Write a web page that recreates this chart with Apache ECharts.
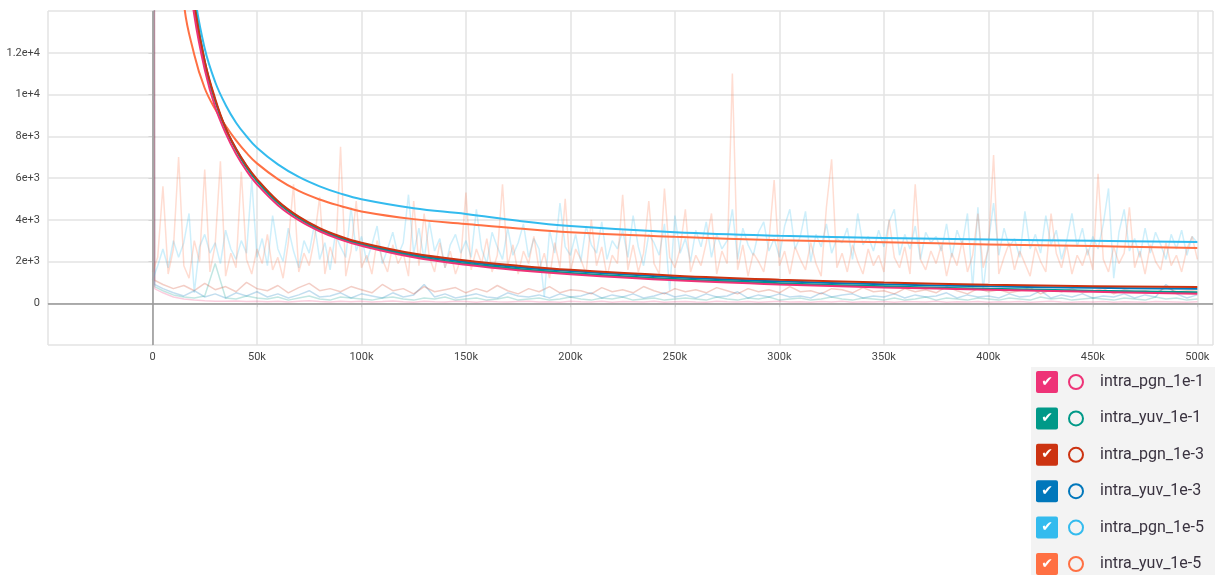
<!DOCTYPE html>
<html>
<head>
<meta charset="utf-8">
<script src="https://cdn.jsdelivr.net/npm/echarts@6/dist/echarts.min.js"></script>
<style>
  html, body { margin: 0; padding: 0; background: #fff; }
  #chart { width: 1215px; height: 575px; }
</style>
</head>
<body>
<div id="chart"></div>
<script>
// run names and TensorBoard palette
const runNames = ['intra_pgn_1e-1', 'intra_yuv_1e-1', 'intra_pgn_1e-3', 'intra_yuv_1e-3', 'intra_pgn_1e-5', 'intra_yuv_1e-5'];
const runColors = ['#ee3377', '#009988', '#cc3311', '#0077bb', '#33bbee', '#ff7043'];

// smoothed curves (step -> value)
const smoothSteps = [0, 5000, 10000, 15000, 20000, 25000, 30000, 35000, 40000, 45000, 50000, 60000, 70000, 80000, 90000,
  100000, 125000, 150000, 175000, 200000, 250000, 300000, 350000, 400000, 450000, 500000];
const smoothPgn1 = [88000, 48000, 26000, 17800, 13800, 11200, 9400, 8150, 7150, 6350, 5700, 4700, 3980, 3450, 3050,
  2750, 2200, 1840, 1580, 1390, 1100, 900, 760, 650, 550, 460];
const smoothYuv1 = [90000, 50000, 27000, 18500, 14400, 11600, 9700, 8350, 7350, 6500, 5850, 4820, 4080, 3530, 3110,
  2800, 2250, 1900, 1640, 1450, 1160, 960, 810, 690, 600, 530];
const smoothPgn3 = [95000, 52000, 27000, 18500, 14300, 11600, 9800, 8400, 7400, 6600, 5950, 4900, 4150, 3600, 3200,
  2900, 2380, 2050, 1800, 1600, 1320, 1130, 990, 890, 820, 780];
const smoothYuv3 = [92000, 51000, 27000, 18300, 14200, 11500, 9700, 8380, 7380, 6570, 5900, 4860, 4110, 3560, 3160,
  2850, 2320, 1980, 1730, 1540, 1250, 1050, 910, 810, 740, 690];
const smoothPgn5 = [200000, 90000, 40000, 22000, 15000, 12200, 10600, 9500, 8650, 8000, 7450, 6650, 6050, 5600, 5250,
  4980, 4550, 4280, 3950, 3700, 3400, 3230, 3130, 3050, 2990, 2930];
const smoothYuv5 = [150000, 60000, 28000, 14500, 11900, 10300, 9300, 8500, 7800, 7200, 6700, 5950, 5380, 4970, 4660,
  4400, 4030, 3800, 3580, 3400, 3180, 3020, 2920, 2820, 2740, 2650];

// raw (unsmoothed) values, noisy runs logged every 2.5k steps
const rawPgn5 = [
  1100, 1800, 2600, 1700, 3000, 2200, 2900, 4300, 500, 2700,
  3300, 2400, 2900, 1900, 3500, 2600, 2100, 3000, 2400, 5900,
  2200, 3100, 1800, 4200, 2600, 2000, 3600, 2500, 1700, 3000,
  2400, 3800, 2100, 2900, 1600, 3300, 2700, 2200, 4600, 2500,
  3200, 2000, 2800, 3700, 1900, 2600, 3400, 2300, 2900, 5200,
  2400, 3600, 2100, 3900, 2500, 3100, 1700, 2800, 3300, 2400,
  3000, 2200, 4500, 2600, 1900, 3400, 2700, 2100, 3600, 2300,
  2900, 3800, 2200, 3100, 2600, 300, 3500, 2400, 4800, 2700,
  2300, 3300, 2000, 3700, 2800, 2400, 3900, 2100, 3000, 2600,
  3500, 2200, 4200, 2700, 1800, 3300, 2900, 2300, 3800, 600,
  4200, 2400, 3100, 2000, 3500, 2700, 3900, 2200, 3300, 2600,
  3000, 4500, 2100, 3600, 2800, 2300, 3400, 3900, 2500, 3100,
  2200, 3700, 4500, 2600, 3200, 4400, 2000, 3300, 2700, 3800,
  2400, 3100, 2900, 3600, 2100, 4300, 2800, 3200, 2500, 3500,
  2700, 3900, 4500, 2300, 3300, 2600, 3700, 2100, 3400, 2900,
  3200, 2500, 3800, 2200, 3500, 2800, 4300, 700, 4600, 600,
  2900, 4800, 2300, 3600, 2700, 3100, 2200, 4400, 2600, 3300,
  2400, 4200, 2800, 3500, 2100, 3000, 4300, 2700, 3600, 2300,
  3200, 2600, 3800, 5500, 1200, 3400, 4500, 2500, 3100, 2200,
  3600, 2400, 3400, 2800, 2100, 3300, 2600, 3500, 2300, 3200,
  2900];
const rawYuv5 = [
  1500, 2200, 5600, 1400, 2600, 7000, 1800, 1200, 3000, 2000,
  6400, 1500, 2800, 6800, 1300, 2400, 1700, 6300, 2100, 1400,
  2600, 1900, 3300, 1600, 2200, 1200, 2900, 5700, 1500, 2400,
  1800, 3100, 5100, 1400, 2700, 1900, 7500, 1300, 2500, 4900,
  1700, 2300, 1400, 3000, 2100, 1500, 2800, 1900, 2400, 1300,
  4900, 1800, 4300, 2200, 1500, 2900, 1700, 2500, 1400, 2100,
  5300, 1600, 2600, 1900, 3100, 1500, 2300, 5700, 1800, 2800,
  1400, 2500, 1900, 3200, 1600, 2400, 1200, 2900, 1700, 5000,
  1500, 2600, 2100, 1400, 4000, 1800, 2700, 1300, 2300, 1900,
  5200, 1600, 2800, 1500, 2400, 4900, 1900, 1400, 5500, 2200,
  1700, 2600, 4500, 1500, 2300, 1800, 2900, 4300, 1400, 2500,
  1900, 11000, 1600, 2800, 1300, 2400, 2000, 1500, 3000, 5900,
  1800, 2500, 1400, 2700, 2100, 1600, 2900, 1900, 1300, 4600,
  6900, 1700, 2400, 1500, 2800, 2000, 1400, 2600, 1800, 2300,
  1500, 4000, 2200, 1700, 2700, 1400, 5700, 2100, 1600, 2500,
  1900, 2800, 1300, 2400, 1800, 3000, 1500, 2300, 4300, 1700,
  2600, 7100, 1400, 2200, 2900, 1600, 2500, 1900, 1300, 2700,
  2000, 1500, 4300, 2400, 1700, 2800, 1400, 2300, 1800, 2600,
  1600, 6200, 2100, 1500, 2700, 1900, 2400, 4600, 1700, 2500,
  1400, 2800, 2000, 1600, 2900, 1800, 2300, 1500, 2600, 3200,
  2100];

// raw values of the low runs: step 0, step 1k, then every 5k
const rawPgn3 = [150000, 1100,
  900, 700, 850, 600, 950, 650, 800, 550, 1000, 700,
  600, 850, 500, 750, 950, 600, 700, 550, 800, 650,
  500, 900, 600, 700, 450, 800, 550, 650, 750, 500,
  700, 550, 850, 600, 450, 700, 550, 800, 500, 650,
  600, 450, 750, 550, 650, 500, 800, 600, 450, 700,
  550, 650, 500, 750, 600, 450, 700, 550, 650, 500,
  800, 550, 600, 450, 700, 650, 500, 750, 550, 600,
  450, 700, 550, 650, 500, 800, 600, 450, 700, 550,
  650, 500, 600, 750, 450, 650, 550, 700, 500, 600,
  700, 450, 650, 550, 600, 500, 750, 550, 600, 650];
const rawYuv3 = [120000, 900,
  700, 500, 350, 600, 300, 450, 250, 500, 350, 550,
  300, 450, 250, 400, 600, 300, 350, 500, 250, 450,
  350, 250, 500, 300, 400, 900, 300, 450, 250, 350,
  450, 300, 250, 500, 350, 300, 400, 250, 450, 300,
  350, 500, 250, 400, 300, 450, 250, 350, 500, 300,
  400, 250, 450, 300, 350, 550, 250, 400, 300, 450,
  300, 350, 250, 500, 300, 400, 450, 250, 350, 300,
  450, 250, 400, 300, 350, 500, 250, 400, 300, 350,
  250, 450, 300, 350, 600, 250, 400, 300, 450, 250,
  350, 300, 450, 250, 400, 300, 900, 450, 250, 400];
const rawYuv1 = [100000, 800,
  600, 400, 300, 250, 350, 1900, 250, 200, 350, 250,
  200, 300, 150, 250, 350, 200, 150, 300, 250, 200,
  150, 250, 300, 200, 150, 250, 200, 300, 150, 200,
  250, 150, 200, 300, 150, 200, 250, 150, 200, 300,
  200, 150, 250, 200, 300, 150, 200, 250, 150, 200,
  250, 200, 150, 300, 200, 150, 250, 200, 300, 150,
  200, 250, 150, 200, 300, 200, 150, 250, 200, 150,
  250, 150, 200, 300, 150, 250, 200, 150, 250, 200,
  150, 250, 200, 150, 300, 200, 250, 150, 200, 250,
  200, 150, 250, 200, 150, 300, 200, 250, 150, 200];
const rawPgn1 = [200000, 700,
  500, 300, 200, 150, 120, 100, 90, 110, 80, 100,
  70, 100, 60, 90, 120, 80, 60, 100, 70, 90,
  60, 80, 110, 70, 50, 90, 70, 60, 100, 80,
  50, 90, 70, 60, 80, 100, 60, 70, 50, 90,
  70, 60, 90, 50, 80, 70, 60, 100, 50, 70,
  80, 60, 50, 90, 70, 60, 80, 50, 70, 90,
  60, 70, 50, 80, 60, 90, 50, 70, 60, 80,
  50, 80, 70, 60, 90, 50, 70, 60, 80, 50,
  70, 60, 80, 50, 70, 90, 60, 50, 70, 60,
  80, 50, 70, 60, 50, 80, 70, 60, 50, 70];

const noisyStep = 2500;
const lowSteps = [0, 1000];
for (let s = 5000; s <= 500000; s += 5000) lowSteps.push(s);
const noisySteps = rawPgn5.map((_, i) => i * noisyStep);

function pairs(steps, values) {
  return values.map((v, i) => [steps[i], v]);
}

function sci(v) {
  if (v === 0) return '0';
  const e = Math.floor(Math.log10(Math.abs(v)));
  const m = v / Math.pow(10, e);
  return (+m.toFixed(2)) + 'e+' + e;
}

const chart = echarts.init(document.getElementById('chart'));

function rawSeries(idx, steps, values) {
  return {
    name: runNames[idx],
    type: 'line',
    data: pairs(steps, values),
    showSymbol: false,
    silent: true,
    z: 1,
    itemStyle: { color: runColors[idx] },
    lineStyle: { color: runColors[idx], width: 1.5, opacity: 0.24 }
  };
}
function smoothSeries(idx, values) {
  return {
    name: runNames[idx],
    type: 'line',
    data: pairs(smoothSteps, values),
    showSymbol: false,
    smooth: 0.4,
    silent: true,
    z: 3,
    itemStyle: { color: runColors[idx] },
    lineStyle: { color: runColors[idx], width: 2 }
  };
}

const series = [
  rawSeries(3, lowSteps, rawYuv3),
  rawSeries(1, lowSteps, rawYuv1),
  rawSeries(2, lowSteps, rawPgn3),
  rawSeries(0, lowSteps, rawPgn1),
  rawSeries(4, noisySteps, rawPgn5),
  rawSeries(5, noisySteps, rawYuv5),
  smoothSeries(4, smoothPgn5),
  smoothSeries(5, smoothYuv5),
  smoothSeries(3, smoothYuv3),
  smoothSeries(1, smoothYuv1),
  smoothSeries(2, smoothPgn3),
  smoothSeries(0, smoothPgn1)
];

// darker zero axes
series[0].markLine = {
  silent: true,
  symbol: ['none', 'none'],
  label: { show: false },
  lineStyle: { color: '#9a9a9a', width: 1.5, type: 'solid', opacity: 1 },
  data: [{ yAxis: 0 }, { xAxis: 0 }]
};

const rich = {
  g1: { width: 11, fontSize: 12 },
  g2: { width: 17, fontSize: 12 },
  t: { fontSize: 16, color: '#3a3340', fontFamily: 'Roboto', lineHeight: 22 }
};
runColors.forEach((c, i) => {
  rich['b' + i] = {
    backgroundColor: c, color: '#fff', width: 22, height: 22, lineHeight: 22,
    borderRadius: 2, align: 'center', fontSize: 14, fontFamily: 'DejaVu Sans'
  };
  rich['c' + i] = {
    width: 14, height: 14, borderColor: c, borderWidth: 2, borderRadius: 9, fontSize: 8
  };
});

chart.setOption({
  animation: false,
  backgroundColor: '#fff',
  grid: { left: 48, right: 2, top: 11, bottom: 230, containLabel: false },
  xAxis: {
    type: 'value',
    min: -50000,
    max: 507500,
    interval: 50000,
    axisLine: { show: true, lineStyle: { color: '#d6d6d6' } },
    axisTick: { show: true, length: 4, lineStyle: { color: '#d6d6d6' } },
    splitLine: { show: true, lineStyle: { color: '#e3e3e3', width: 1.5 } },
    axisLabel: {
      showMinLabel: false, showMaxLabel: false, margin: 7,
      color: '#444', fontSize: 11, fontFamily: 'Roboto',
      formatter: v => v === 0 ? '0' : (v / 1000) + 'k'
    }
  },
  yAxis: {
    type: 'value',
    min: -2000,
    max: 14000,
    interval: 2000,
    axisLine: { show: true, lineStyle: { color: '#d6d6d6' } },
    axisTick: { show: true, length: 4, lineStyle: { color: '#d6d6d6' } },
    splitLine: { show: true, lineStyle: { color: '#e3e3e3', width: 1.5 } },
    axisLabel: {
      showMinLabel: false, showMaxLabel: false, margin: 8,
      color: '#444', fontSize: 11, fontFamily: 'Roboto',
      formatter: sci
    }
  },
  legend: {
    data: runNames,
    orient: 'vertical',
    left: 1031,
    top: 367,
    height: 260,
    padding: [4, 12, 20, 0],
    itemGap: 14.4,
    itemWidth: 0,
    itemHeight: 0,
    icon: 'rect',
    selectedMode: false,
    backgroundColor: '#f3f3f3',
    textStyle: { rich: rich, fontSize: 16, color: '#3a3340', fontFamily: 'Roboto' },
    formatter: function (name) {
      const i = runNames.indexOf(name);
      return '{b' + i + '|✔}{g1| }{c' + i + '| }{g2| }{t|' + name + '}';
    }
  },
  series: series
});
</script>
</body>
</html>
